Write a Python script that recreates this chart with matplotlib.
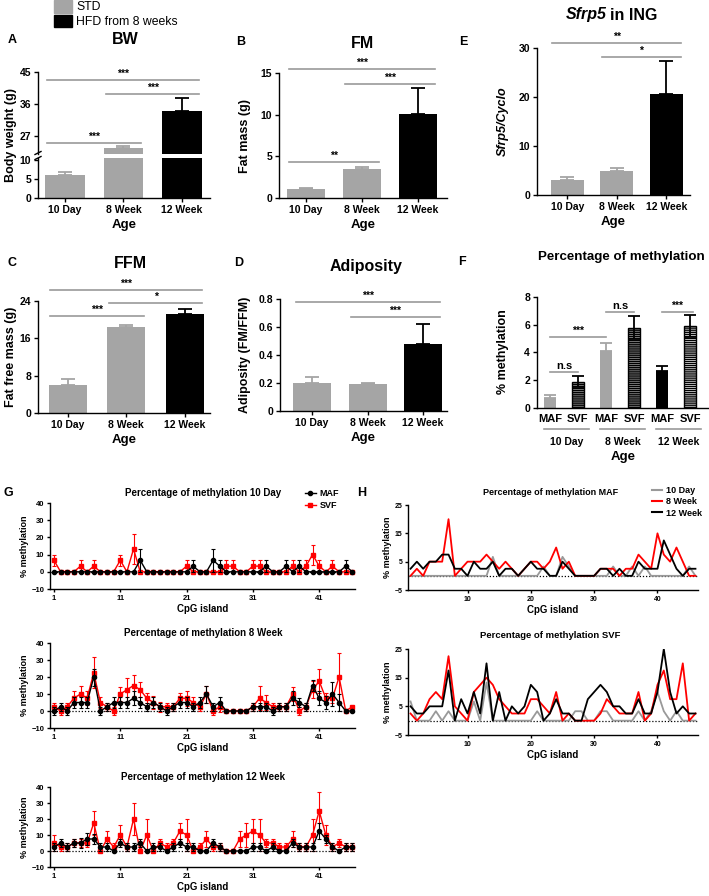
import matplotlib
matplotlib.use('Agg')
import numpy as np
import matplotlib.pyplot as plt
from matplotlib.patches import Patch
from matplotlib.lines import Line2D
import matplotlib.transforms as mtrans

# ---- data ----
groups = ['10 Day', '8 Week', '12 Week']
bw_mean = [6.0, 23.8, 34.0]
bw_err = [0.8, 0.5, 3.8]
fm_mean = [1.1, 3.5, 10.1]
fm_err = [0.15, 0.2, 3.1]
sfrp5_mean = [3.0, 4.8, 20.6]
sfrp5_err = [0.6, 0.7, 6.8]
ffm_mean = [6.0, 18.5, 21.2]
ffm_err = [1.3, 0.3, 1.0]
adip_mean = [0.20, 0.19, 0.48]
adip_err = [0.045, 0.012, 0.14]

frac_labels = ['MAF', 'SVF', 'MAF', 'SVF', 'MAF', 'SVF']
meth_mean = [0.7, 1.9, 4.1, 5.8, 2.7, 5.9]
meth_err = [0.25, 0.4, 0.55, 0.8, 0.35, 0.8]

cpg = list(range(1, 47))
maf_10d = [0, 0, 0, 0, 0, 0, 0, 0, 0, 0, 0, 0, 0, 6.7, 0, 0, 0, 0, 0, 0, 0, 3.3, 0, 0, 6.7, 3.3, 0, 0, 0, 0,
           0, 0, 3.3, 0, 0, 3.3, 0, 3.3, 0, 0, 0, 0, 0, 0, 3.3, 0]
maf_10d_err = [0, 0, 0, 0, 0, 0, 0, 0, 0, 0, 0, 0, 0, 6.7, 0, 0, 0, 0, 0, 0, 0, 3.3, 0, 0, 6.7, 3.3, 0, 0, 0, 0,
               0, 0, 3.3, 0, 0, 3.3, 0, 3.3, 0, 0, 0, 0, 0, 0, 3.3, 0]
svf_10d = [6.7, 0, 0, 0, 3.3, 0, 3.3, 0, 0, 0, 6.7, 0, 13.3, 0, 0, 0, 0, 0, 0, 0, 3.3, 0, 0, 0, 0, 0, 3.3, 3.3, 0, 0,
           3.3, 3.3, 0, 0, 0, 0, 3.3, 0, 3.3, 10, 3.3, 0, 3.3, 0, 0, 0]
svf_10d_err = [3.3, 0, 0, 0, 3.3, 0, 3.3, 0, 0, 0, 3.3, 0, 8.7, 0, 0, 0, 0, 0, 0, 0, 3.3, 0, 0, 0, 0, 0, 3.3, 3.3, 0, 0,
               3.3, 3.3, 0, 0, 0, 0, 3.3, 0, 3.3, 5.8, 3.3, 0, 3.3, 0, 0, 0]
maf_8w = [0, 2.5, 0, 5, 5, 5, 20, 0, 2.5, 5, 5, 5, 7.5, 5, 2.5, 5, 2.5, 0, 2.5, 5, 5, 2.5, 5, 10, 2.5, 5, 0, 0, 0, 0,
          2.5, 2.5, 2.5, 0, 2.5, 2.5, 7.5, 5, 2.5, 15, 7.5, 5, 10, 5, 0, 0]
maf_8w_err = [2.5, 2.5, 2.5, 3, 3, 3, 5, 2.5, 2.5, 3, 3, 3, 4, 3, 2.5, 3, 2.5, 2.5, 2.5, 3, 3, 2.5, 3, 5, 2.5, 3, 0, 0, 0, 0,
              2.5, 2.5, 2.5, 2.5, 2.5, 2.5, 4, 2.5, 2.5, 3, 4, 4, 7, 5, 0, 0]
svf_8w = [2.5, 0, 2.5, 7.5, 10, 7.5, 22.5, 5, 2.5, 0, 10, 12.5, 15, 12.5, 7.5, 5, 2.5, 2.5, 2.5, 7.5, 7.5, 5, 2.5, 10, 0,
          2.5, 0, 0, 0, 0, 2.5, 7.5, 5, 2.5, 2.5, 2.5, 10, 0, 2.5, 12.5, 17.5, 7.5, 7.5, 20, 0, 2.5]
svf_8w_err = [2.5, 2.5, 2.5, 4, 5, 4, 9, 3, 2.5, 2.5, 4, 7, 6, 4.5, 3, 4, 3, 2.5, 2.5, 3, 4.5, 3, 2.5, 5, 2.5, 3, 0, 0, 0, 0,
              2.5, 7, 4.5, 2.5, 2.5, 2.5, 4, 2.5, 2.5, 5, 7, 3, 3, 14, 0, 0]
maf_12w = [2.5, 5, 2.5, 5, 5, 7.5, 7.5, 2.5, 2.5, 0, 5, 2.5, 2.5, 5, 0, 2.5, 2.5, 0, 2.5, 5, 2.5, 2.5, 0, 0, 5, 2.5, 0, 0, 0, 0,
           2.5, 2.5, 0, 2.5, 0, 0, 5, 2.5, 2.5, 2.5, 12.5, 7.5, 2.5, 0, 2.5, 2.5]
maf_12w_err = [2.5, 2.5, 2.5, 2.5, 3, 4, 3, 2.5, 2.5, 0, 2.5, 2.5, 2.5, 2.5, 0, 2.5, 2.5, 0, 2.5, 2.5, 2.5, 2.5, 0, 0, 2.5,
               2.5, 0, 0, 0, 0, 2.5, 2.5, 0, 2.5, 0, 0, 2.5, 2.5, 2.5, 2.5, 5, 2.5, 2.5, 0, 2.5, 2.5]
svf_12w = [5, 2.5, 2.5, 5, 5, 5, 17.5, 0, 7.5, 2.5, 10, 2.5, 20, 0, 10, 0, 5, 2.5, 5, 12.5, 10, 0, 2.5, 7.5, 2.5, 2.5, 0, 0,
           7.5, 10, 12.5, 10, 5, 5, 2.5, 2.5, 7.5, 2.5, 2.5, 10, 25, 10, 2.5, 5, 2.5, 2.5]
svf_12w_err = [5, 2.5, 2.5, 2.5, 2.5, 2.5, 7.5, 0, 5, 2.5, 6, 2.5, 10, 0, 10, 0, 2.5, 2.5, 2.5, 5, 10, 0, 2.5, 5, 2.5, 2.5, 0, 0,
               5, 7.5, 7.5, 10, 2.5, 2.5, 2.5, 2.5, 5, 2.5, 2.5, 10, 12, 6, 2.5, 2.5, 2.5, 2.5]

GRAY = '#a5a5a5'
SIGGRAY = '#9a9a9a'
bar_colors = [GRAY, GRAY, 'black']

plt.rcParams['font.family'] = ['Liberation Sans', 'DejaVu Sans']
plt.rcParams['font.weight'] = 'bold'
plt.rcParams['axes.labelweight'] = 'bold'
plt.rcParams['axes.linewidth'] = 1.0
plt.rcParams['hatch.linewidth'] = 1.0

W, H = 709, 896
fig = plt.figure(figsize=(W / 100, H / 100), dpi=100)


def box(l, t, r, b):
    # pixel box -> figure fraction
    return [l / W, 1 - b / H, (r - l) / W, (b - t) / H]


def ftext(x, y, s, **kw):
    fig.text(x / W, 1 - y / H, s, **kw)


def style(ax, fs=7.5, length=3):
    ax.spines['top'].set_visible(False)
    ax.spines['right'].set_visible(False)
    ax.tick_params(labelsize=fs, width=1, length=length, pad=2)


def bars(ax, means, errs, colors, xlim, width):
    x = np.arange(len(means))
    ax.bar(x, means, width, color=colors, zorder=2)
    for xi, m, e, c in zip(x, means, errs, colors):
        ax.errorbar(xi, m, yerr=[[0], [e]], color=c, capsize=5, lw=1.3, capthick=1.3, zorder=1)
    ax.set_xlim(xlim)
    ax.set_xticks(x)
    ax.set_xticklabels(groups)


def sig(ax, i, j, y, label, fs=7.5):
    ax.plot([i - 0.3, j + 0.3], [y, y], color=SIGGRAY, lw=1.2, clip_on=False)
    ax.annotate(label, ((i + j) / 2, y), xytext=(0, 1), textcoords='offset points',
                ha='center', va='bottom', fontsize=fs, annotation_clip=False)


def age_label(ax):
    ax.set_xlabel('Age', fontsize=9.5, labelpad=3)


# ---- A: body weight with broken axis ----
axA_top = fig.add_axes(box(38, 72, 210, 154))
axA_bot = fig.add_axes(box(38, 158, 210, 198))
for ax in (axA_top, axA_bot):
    bars(ax, bw_mean, bw_err, bar_colors, (-0.46, 2.48), 0.68)
    style(ax)
axA_top.set_ylim(22, 45)
axA_top.set_yticks([27, 36, 45])
axA_top.spines['bottom'].set_visible(False)
axA_top.tick_params(axis='x', bottom=False, labelbottom=False)
axA_bot.set_ylim(0, 10.5)
axA_bot.set_yticks([0, 5, 10])
age_label(axA_bot)
sig(axA_top, 0, 2, 42.8, '***')
sig(axA_top, 1, 2, 38.8, '***')
sig(axA_top, 0, 1, 25.0, '***')
# break marks on the y axis
for yb in (153, 158):
    fig.add_artist(Line2D([35 / W, 41 / W], [1 - (yb + 1.5) / H, 1 - (yb - 1.5) / H],
                          color='black', lw=1))
ftext(11, 135, 'Body weight (g)', rotation=90, ha='center', va='center', fontsize=9)
ftext(125, 40, 'BW', ha='center', va='center', fontsize=11.5)
ftext(12, 40, 'A', ha='center', va='center', fontsize=9)

# ---- B: fat mass ----
axB = fig.add_axes(box(279, 73, 447, 198))
bars(axB, fm_mean, fm_err, bar_colors, (-0.48, 2.52), 0.68)
style(axB)
axB.set_ylim(0, 15)
axB.set_yticks([0, 5, 10, 15])
age_label(axB)
sig(axB, 0, 2, 15.5, '***')
sig(axB, 1, 2, 13.7, '***')
sig(axB, 0, 1, 4.3, '**')
ftext(245, 136, 'Fat mass (g)', rotation=90, ha='center', va='center', fontsize=9)
ftext(362, 43, 'FM', ha='center', va='center', fontsize=11.5)
ftext(241, 42, 'B', ha='center', va='center', fontsize=9)

# ---- E: Sfrp5 ----
axE = fig.add_axes(box(537, 48, 690, 195))
bars(axE, sfrp5_mean, sfrp5_err, bar_colors, (-0.61, 2.48), 0.67)
style(axE)
axE.set_ylim(0, 30)
axE.set_yticks([0, 10, 20, 30])
age_label(axE)
sig(axE, 0, 2, 31.0, '**')
sig(axE, 1, 2, 28.2, '*')
ftext(503, 121, 'Sfrp5/Cyclo', rotation=90, ha='center', va='center', fontsize=9, style='italic')
ftext(607, 15, 'Sfrp5', ha='right', va='center', fontsize=11.5, style='italic')
ftext(610, 15, 'in ING', ha='left', va='center', fontsize=11.5)
ftext(463, 42, 'E', ha='center', va='center', fontsize=9)

# ---- C: fat free mass ----
axC = fig.add_axes(box(38, 301, 210, 413))
bars(axC, ffm_mean, ffm_err, bar_colors, (-0.51, 2.43), 0.65)
style(axC)
axC.set_ylim(0, 24)
axC.set_yticks([0, 8, 16, 24])
age_label(axC)
sig(axC, 0, 2, 26.3, '***')
sig(axC, 1, 2, 23.6, '*')
sig(axC, 0, 1, 20.8, '***')
ftext(11, 357, 'Fat free mass (g)', rotation=90, ha='center', va='center', fontsize=9)
ftext(130, 263, 'FFM', ha='center', va='center', fontsize=11.5)
ftext(12, 263, 'C', ha='center', va='center', fontsize=9)

# ---- D: adiposity ----
axD = fig.add_axes(box(280, 299, 447, 411))
bars(axD, adip_mean, adip_err, bar_colors, (-0.58, 2.43), 0.68)
style(axD)
axD.set_ylim(0, 0.8)
axD.set_yticks([0, 0.2, 0.4, 0.6, 0.8])
axD.set_yticklabels(['0', '0.2', '0.4', '0.6', '0.8'])
age_label(axD)
sig(axD, 0, 2, 0.78, '***')
sig(axD, 1, 2, 0.67, '***')
ftext(245, 355, 'Adiposity (FM/FFM)', rotation=90, ha='center', va='center', fontsize=9)
ftext(366, 266, 'Adiposity', ha='center', va='center', fontsize=11.5)
ftext(239, 263, 'D', ha='center', va='center', fontsize=9)

# ---- F: methylation per fraction ----
axF = fig.add_axes(box(537, 297, 708, 408))
xF = np.arange(len(meth_mean))
f_face = [GRAY, GRAY, GRAY, GRAY, 'black', 'white']
for xi, m, e, fc, lab in zip(xF, meth_mean, meth_err, f_face, frac_labels):
    if lab == 'SVF':
        axF.bar(xi, m, 0.45, color=fc, edgecolor='black', hatch='--------', lw=1, zorder=2)
        axF.errorbar(xi, m, yerr=e, color='black', capsize=4, lw=1.3, capthick=1.3, zorder=3)
    else:
        axF.bar(xi, m, 0.45, color=fc, zorder=2)
        axF.errorbar(xi, m, yerr=[[0], [e]], color=fc, capsize=4, lw=1.3, capthick=1.3, zorder=1)
style(axF)
axF.set_xlim(-0.46, 5.64)
axF.set_ylim(0, 8)
axF.set_yticks([0, 2, 4, 6, 8])
axF.set_xticks(xF)
axF.set_xticklabels(frac_labels, fontsize=8)
axF.tick_params(axis='x', length=0, pad=4)
tF = mtrans.blended_transform_factory(axF.transData, axF.transAxes)
for g in range(3):
    axF.plot([2 * g - 0.2, 2 * g + 1.4], [-0.19, -0.19], color=SIGGRAY, lw=1.2,
             transform=tF, clip_on=False)
    axF.text(2 * g + 0.6, -0.26, groups[g], transform=tF, ha='center', va='top', fontsize=7.5)
axF.text(2.6, -0.39, 'Age', transform=tF, ha='center', va='top', fontsize=9.5)
sig(axF, 0.3, 0.7, 2.6, 'n.s', fs=8)
sig(axF, 0.3, 1.7, 5.1, '***')
sig(axF, 2.3, 2.7, 6.9, 'n.s', fs=8)
sig(axF, 4.3, 4.8, 6.9, '***')
ftext(503, 352, '% methylation', rotation=90, ha='center', va='center', fontsize=9)
ftext(621, 257, 'Percentage of methylation', ha='center', va='center', fontsize=9.6)
ftext(462, 262, 'F', ha='center', va='center', fontsize=9)


# ---- G: per-CpG methylation, MAF vs SVF ----
def cpg_panel(ax, maf, maf_err, svf, svf_err):
    ax.axhline(0, color='black', ls=(0, (1, 1.5)), lw=0.9, zorder=1)
    ax.errorbar(cpg, svf, yerr=svf_err, color='red', marker='s', ms=3, lw=1,
                capsize=1.5, elinewidth=0.8, capthick=0.8, zorder=2)
    ax.errorbar(cpg, maf, yerr=maf_err, color='black', marker='o', ms=3, lw=1,
                capsize=1.5, elinewidth=0.8, capthick=0.8, zorder=3)
    style(ax, fs=5.5, length=2)
    ax.set_xlim(0.4, 46.4)
    ax.set_ylim(-10, 40)
    ax.set_xticks([1, 11, 21, 31, 41])
    ax.set_yticks([-10, 0, 10, 20, 30, 40])
    ax.set_yticklabels(['\u221210', '0', '10', '20', '30', '40'])
    ax.set_xlabel('CpG island', fontsize=7, labelpad=2)
    ax.set_ylabel('% methylation', fontsize=6.5, labelpad=2)


g_rows = [(503, 589, 493, '10 Day', maf_10d, maf_10d_err, svf_10d, svf_10d_err),
          (643, 728, 633, '8 Week', maf_8w, maf_8w_err, svf_8w, svf_8w_err),
          (787, 867, 777, '12 Week', maf_12w, maf_12w_err, svf_12w, svf_12w_err)]
for top, bot, ty, age, a, ae, s, se in g_rows:
    ax = fig.add_axes(box(50, top, 355, bot))
    cpg_panel(ax, a, ae, s, se)
    ftext(203, ty, 'Percentage of methylation ' + age, ha='center', va='center', fontsize=7)
ftext(8, 493, 'G', ha='center', va='center', fontsize=9)
g_handles = [Line2D([], [], color='black', marker='o', ms=3, lw=1),
             Line2D([], [], color='red', marker='s', ms=3, lw=1)]
fig.legend(g_handles, ['MAF', 'SVF'], loc='upper left', bbox_to_anchor=(305 / W, 1 - 489 / H),
           frameon=False, fontsize=6.5, handlelength=1.2, handletextpad=0.4,
           labelspacing=0.3, borderpad=0, borderaxespad=0)


# ---- H: per-CpG methylation by age ----
def age_panel(ax, d10, d8, d12):
    ax.axhline(0, color='black', ls=(0, (1, 1.5)), lw=0.9, zorder=1)
    ax.plot(cpg, d10, color='#999999', lw=1.3, zorder=2)
    ax.plot(cpg, d8, color='red', lw=1.3, zorder=3)
    ax.plot(cpg, d12, color='black', lw=1.3, zorder=4)
    style(ax, fs=5, length=2)
    ax.set_xlim(0.6, 46.4)
    ax.set_ylim(-5, 25)
    ax.set_xticks([10, 20, 30, 40])
    ax.set_yticks([-5, 5, 15, 25])
    ax.set_yticklabels(['\u22125', '5', '15', '25'])
    ax.set_xlabel('CpG island', fontsize=7, labelpad=2)
    ax.set_ylabel('% methylation', fontsize=6.5, labelpad=2)


axH1 = fig.add_axes(box(408, 505, 698, 590))
age_panel(axH1, maf_10d, maf_8w, maf_12w)
ftext(551, 492, 'Percentage of methylation MAF', ha='center', va='center', fontsize=6.5)
axH2 = fig.add_axes(box(408, 649, 698, 735))
age_panel(axH2, svf_10d, svf_8w, svf_12w)
ftext(550, 635, 'Percentage of methylation SVF', ha='center', va='center', fontsize=6.8)
ftext(362, 493, 'H', ha='center', va='center', fontsize=9)
h_handles = [Line2D([], [], color='#999999', lw=1.5),
             Line2D([], [], color='red', lw=1.5),
             Line2D([], [], color='black', lw=1.5)]
fig.legend(h_handles, groups, loc='upper left', bbox_to_anchor=(652 / W, 1 - 486 / H),
           frameon=False, fontsize=6.5, handlelength=1.1, handletextpad=0.5,
           labelspacing=0.25, borderpad=0, borderaxespad=0)

# ---- top legend ----
fig.legend([Patch(color=GRAY), Patch(color='black')], ['STD', 'HFD from 8 weeks'],
           loc='upper left', bbox_to_anchor=(54 / W, 1 - 0 / H), frameon=False,
           prop={'size': 8.8, 'weight': 'normal'}, handlelength=1.5, handleheight=1.2,
           handletextpad=0.3, labelspacing=0.1, borderpad=0, borderaxespad=0)

fig.savefig('out.png', dpi=100)
